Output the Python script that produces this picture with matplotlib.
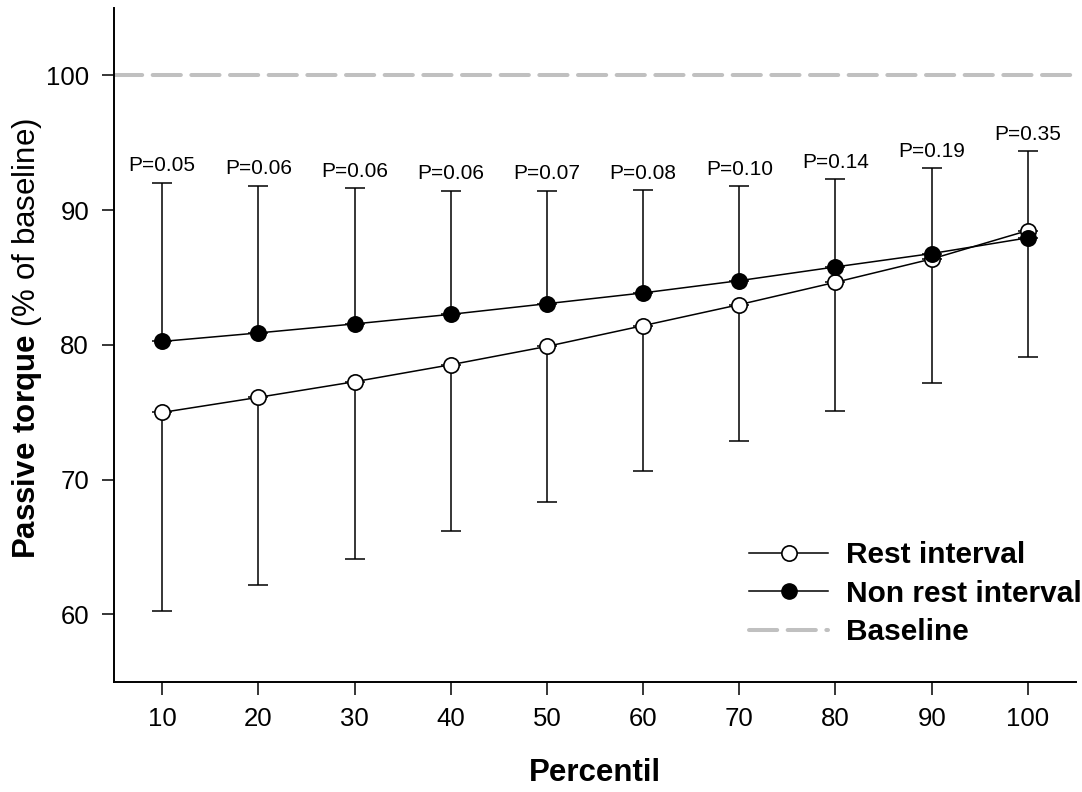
import numpy as np
import matplotlib
matplotlib.use("Agg")
import matplotlib.pyplot as plt
from matplotlib.lines import Line2D

plt.rcParams['font.family'] = ['Liberation Sans', 'DejaVu Sans']
plt.rcParams['mathtext.fontset'] = 'custom'
plt.rcParams['mathtext.rm'] = 'Liberation Sans'
plt.rcParams['mathtext.bf'] = 'Liberation Sans:bold'

# percentis e medias (% do baseline)
percentil = [10, 20, 30, 40, 50, 60, 70, 80, 90, 100]
rest_mean = [74.98, 76.1, 77.26, 78.52, 79.88, 81.42, 82.98, 84.64, 86.37, 88.48]
rest_low = [60.27, 62.15, 64.1, 66.2, 68.35, 70.6, 72.85, 75.1, 77.2, 79.06]
nonrest_mean = [80.25, 80.88, 81.55, 82.26, 83.05, 83.85, 84.76, 85.78, 86.77, 87.94]
nonrest_high = [92.04, 91.8, 91.6, 91.45, 91.43, 91.47, 91.75, 92.27, 93.1, 94.35]
p_labels = ["P=0.05", "P=0.06", "P=0.06", "P=0.06", "P=0.07",
            "P=0.08", "P=0.10", "P=0.14", "P=0.19", "P=0.35"]
baseline = 100

x = np.array(percentil)
r = np.array(rest_mean)
n = np.array(nonrest_mean)
r_err = r - np.array(rest_low)
n_err = np.array(nonrest_high) - n

fig = plt.figure(figsize=(10.82, 7.92), dpi=100)
ax = fig.add_axes([0.1054, 0.1393, 0.889, 0.8507])

dash = (0, (7.0, 2.6))
ax.axhline(baseline, color='#c0c0c0', lw=2.9, linestyle=dash,
           dash_capstyle='round', zorder=1)

# rest: so erro para baixo
ax.errorbar(x, r, yerr=[r_err, np.zeros_like(r_err)], fmt='none',
            ecolor='black', elinewidth=1.1, capsize=7.5, capthick=1.1, zorder=2)
# non rest: so erro para cima
ax.errorbar(x, n, yerr=[np.zeros_like(n_err), n_err], fmt='none',
            ecolor='black', elinewidth=1.1, capsize=7.5, capthick=1.1, zorder=2)

ax.plot(x, r, '-o', color='black', lw=1.1, ms=11, mfc='white', mec='black',
        mew=1.2, zorder=3)
ax.plot(x, n, '-o', color='black', lw=1.1, ms=11, mfc='black', mec='black',
        mew=1.2, zorder=4)

for xi, hi, lab in zip(x, nonrest_high, p_labels):
    ax.text(xi, hi + 0.55, lab, ha='center', va='bottom', fontsize=15)

ax.set_xlim(5, 105)
ax.set_ylim(55, 105)
ax.set_xticks(percentil)
ax.set_yticks([60, 70, 80, 90, 100])
ax.tick_params(direction='out', length=9, width=1.1, labelsize=18.5, pad=9)
ax.spines['top'].set_visible(False)
ax.spines['right'].set_visible(False)
for s in ['left', 'bottom']:
    ax.spines[s].set_linewidth(1.4)

ax.set_xlabel("Percentil", fontsize=22.5, fontweight='bold', labelpad=20)
ax.set_ylabel(r"$\mathbf{Passive\ torque}$ (% of baseline)", fontsize=22.5, va='center')
ax.yaxis.set_label_coords(-0.0904, 0.51)

handles = [
    Line2D([], [], color='black', lw=1.1, marker='o', ms=11, mfc='white', mec='black', mew=1.2),
    Line2D([], [], color='black', lw=1.1, marker='o', ms=11, mfc='black', mec='black'),
    Line2D([], [], color='#c0c0c0', lw=2.9, linestyle=(0, (7.0, 2.6)), dash_capstyle='round'),
]
leg = ax.legend(handles, ["Rest interval", "Non rest interval", "Baseline"],
                loc='lower right', bbox_to_anchor=(1.034, 0.013), frameon=False,
                prop={'size': 21.5, 'weight': 'bold'}, handlelength=2.65,
                handletextpad=0.6, labelspacing=0.35)

fig.savefig("out.png", dpi=100)
